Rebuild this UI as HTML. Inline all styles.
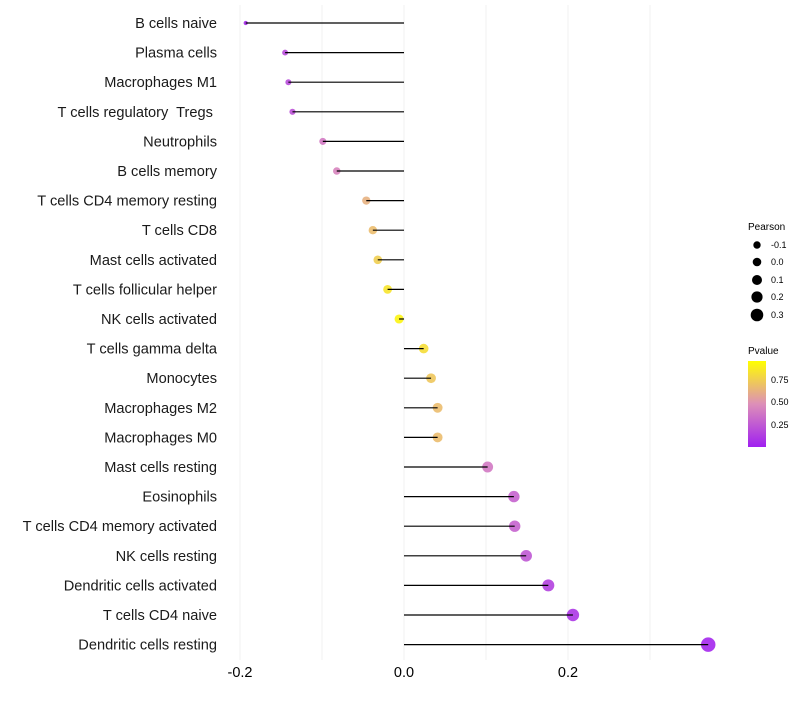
<!DOCTYPE html>
<html><head><meta charset="utf-8"><style>
body{margin:0;background:#fff;font-family:"Liberation Sans",sans-serif}
text{white-space:pre}
</style></head><body>
<svg id="c" width="800" height="700" xmlns="http://www.w3.org/2000/svg">
<defs><linearGradient id="pg" x1="0" y1="1" x2="0" y2="0">
<stop offset="0" stop-color="#A020F0"/><stop offset="0.5" stop-color="#DD8FB8"/><stop offset="1" stop-color="#FFFF00"/>
</linearGradient></defs>
<g id="grid"></g><g id="marks"></g><g id="labels"></g>
<g font-size="9" fill="#000">
<text x="748" y="230" font-size="10">Pearson</text>
<circle cx="757" cy="245" r="3.7"/><text x="771" y="248">-0.1</text>
<circle cx="757" cy="262" r="4.3"/><text x="771" y="265">0.0</text>
<circle cx="757" cy="280" r="5"/><text x="771" y="283">0.1</text>
<circle cx="757" cy="297" r="5.6"/><text x="771" y="300">0.2</text>
<circle cx="757" cy="315" r="6.3"/><text x="771" y="318">0.3</text>
</g>
<g font-size="9">
<text x="748" y="354" font-size="10">Pvalue</text>
<rect x="748" y="361" width="18" height="86" fill="url(#pg)"/>
<text x="771" y="383">0.75</text><text x="771" y="405">0.50</text><text x="771" y="428">0.25</text>
</g>
</svg>
<script>
const categories=["B cells naive","Plasma cells","Macrophages M1","T cells regulatory  Tregs ","Neutrophils","B cells memory","T cells CD4 memory resting","T cells CD8","Mast cells activated","T cells follicular helper","NK cells activated","T cells gamma delta","Monocytes","Macrophages M2","Macrophages M0","Mast cells resting","Eosinophils","T cells CD4 memory activated","NK cells resting","Dendritic cells activated","T cells CD4 naive","Dendritic cells resting"];
const pearson=[-0.193,-0.145,-0.141,-0.136,-0.099,-0.082,-0.046,-0.038,-0.032,-0.020,-0.006,0.024,0.033,0.041,0.041,0.102,0.134,0.135,0.149,0.176,0.206,0.371];
const pvalue=[0.05,0.2,0.2,0.22,0.4,0.45,0.65,0.7,0.78,0.88,0.95,0.85,0.75,0.7,0.7,0.4,0.3,0.3,0.25,0.15,0.1,0.03];
const xTicks=[-0.2,0.0,0.2];
const NS="http://www.w3.org/2000/svg";
const x=v=>404+v*820;
const y=i=>23+i*29.6;
const r=v=>Math.sqrt(Math.max(2.5,21+85*v));
function col(p){const s=[[160,32,240],[221,143,184],[255,255,0]];let a,b,t;
if(p<0.5){a=s[0];b=s[1];t=p/0.5}else{a=s[1];b=s[2];t=(p-0.5)/0.5}
return `rgb(${a.map((c,k)=>Math.round(c+(b[k]-c)*t)).join(',')})`;}
function mk(t,at,parent){const e=document.createElementNS(NS,t);for(const k in at)e.setAttribute(k,at[k]);document.getElementById(parent).appendChild(e);return e;}
[-0.2,-0.1,0,0.1,0.2,0.3].forEach(v=>{const g=mk('line',{x1:x(v),x2:x(v),y1:5,y2:660,stroke:'#f0f0f0','stroke-width':1},'grid');

});
xTicks.forEach(v=>{const t=mk('text',{x:x(v),y:677,'text-anchor':'middle','font-size':14.5,fill:'#000'},'labels');t.textContent=v.toFixed(1);

});
categories.forEach((c,i)=>{
const t=mk('text',{x:217,y:y(i)+5,'text-anchor':'end','font-size':14.6,fill:'#1a1a1a'},'labels');t.textContent=c;


const p=mk('circle',{cx:x(pearson[i]),cy:y(i),r:r(pearson[i]),fill:col(pvalue[i]),'fill-opacity':0.9},'marks');


const l=mk('line',{x1:x(0),x2:x(pearson[i]),y1:y(i),y2:y(i),stroke:'#000','stroke-width':1.2},'marks');


});
</script>
</body></html>
